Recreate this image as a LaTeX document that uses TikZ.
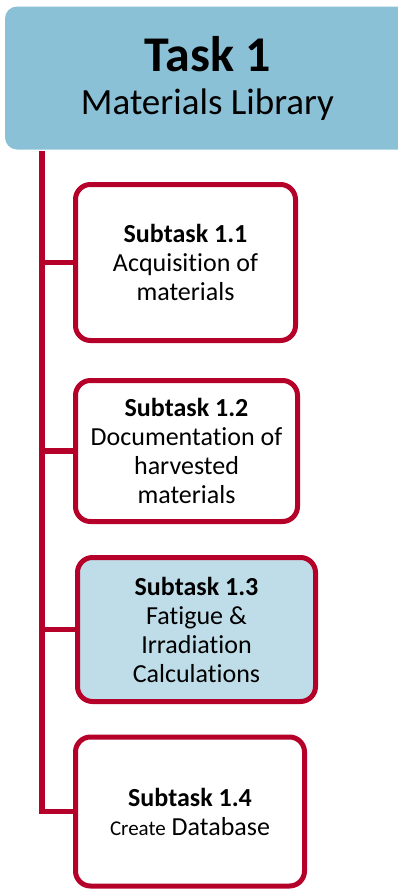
\documentclass[tikz,border=0pt]{standalone}
\usepackage{fontspec}
\setmainfont{Carlito}[Ligatures=NoCommon]

\definecolor{taskblue}{RGB}{139,193,214}
\definecolor{subblue}{RGB}{190,221,232}
\definecolor{crimson}{RGB}{181,0,42}

\tikzset{
    taskbox/.style={fill=taskblue, rounded corners=12pt, inner sep=0pt, align=center,
        font=\fontsize{37}{43}\selectfont},
    subtask/.style={draw=crimson, fill=white, line width=5pt, rounded corners=15pt,
        inner sep=0pt, align=center, font=\fontsize{26}{29}\selectfont},
    link/.style={draw=crimson, line width=5.5pt},
}

\begin{document}
\begin{tikzpicture}[x=1pt,y=-1pt]
    \useasboundingbox (0,0) rectangle (398,889);

    \node[taskbox, minimum width=405pt, minimum height=143pt] (task) at (207.5,78)
        {{\fontsize{50}{50}\selectfont\bfseries Task 1}\\Materials Library};

    \node[subtask, minimum width=220pt, minimum height=156pt] (s1) at (185.5,262.5)
        {\textbf{Subtask 1.1}\\Acquisition of\\materials};
    \node[subtask, minimum width=222pt, minimum height=141pt] (s2) at (186.5,451)
        {\textbf{Subtask 1.2}\\Documentation of\\harvested\\materials};
    \node[subtask, fill=subblue, minimum width=238pt, minimum height=144pt] (s3) at (196.5,629.5)
        {\textbf{Subtask 1.3}\\Fatigue \&\\Irradiation\\Calculations};
    \node[subtask, minimum width=229pt, minimum height=149pt] (s4) at (190,811.5)
        {\textbf{Subtask 1.4}\\{\fontsize{21}{29}\selectfont Create} Database};

    \coordinate (trunk) at (42,151);
    \draw[link] (trunk) |- (s4.west);
    \foreach \s in {s1,s2,s3}
        \draw[link] (trunk |- \s.west) -- (\s.west);
\end{tikzpicture}
\end{document}
